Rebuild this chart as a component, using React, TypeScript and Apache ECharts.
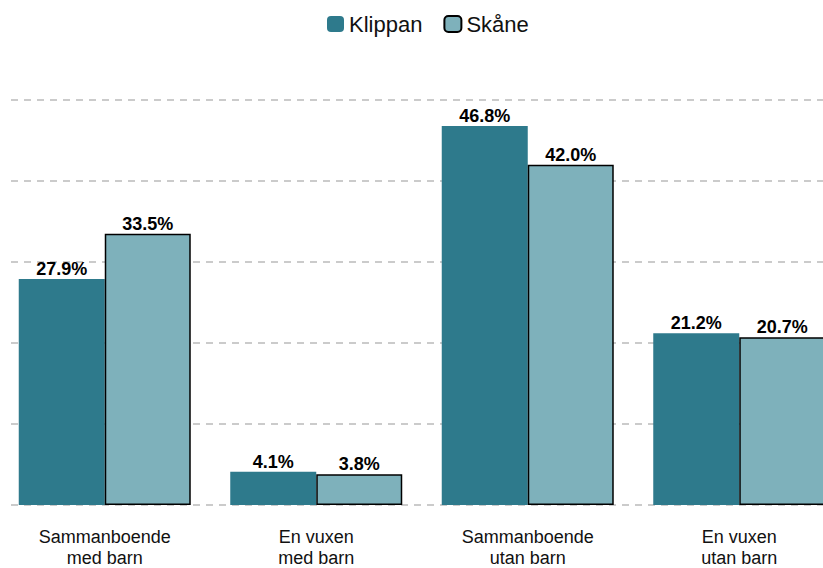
import React, { useEffect, useRef } from "react";
import * as echarts from "echarts";

const categories = ["Sammanboende\nmed barn", "En vuxen\nmed barn", "Sammanboende\nutan barn", "En vuxen\nutan barn"];
const klippan = [27.9, 4.1, 46.8, 21.2];
const skane = [33.5, 3.8, 42.0, 20.7];
const seriesNames = ["Klippan", "Skåne"];

export default function App() {
  const ref = useRef<HTMLDivElement>(null);
  useEffect(() => {
    if (!ref.current) return;
    const chart = echarts.init(ref.current, null, { renderer: "svg" });
    const font = "Liberation Sans, Arial, sans-serif";
    const label = {
      show: true,
      position: "top",
      distance: 1,
      formatter: (p: any) => p.value.toFixed(1) + "%",
      fontFamily: font,
      fontSize: 18,
      fontWeight: "bold",
      color: "#000",
    };
    chart.setOption({
      animation: false,
      textStyle: { fontFamily: font },
      legend: {
        top: 8,
        left: 322,
        itemWidth: 17,
        itemHeight: 16,
        itemGap: 21,
        textStyle: { fontSize: 22, color: "#111", fontFamily: font },
        data: seriesNames,
      },
      grid: [
        { left: 11, right: 0, top: 100, bottom: 63, outerBoundsMode: "none", containLabel: false },
        { left: -1, width: 846, top: 100, bottom: 63, outerBoundsMode: "none", containLabel: false },
      ],
      xAxis: [
        { gridIndex: 0, type: "value", show: false, min: 0, max: 1 },
        {
          gridIndex: 1,
          type: "category",
          data: categories,
          axisLine: { show: false },
          axisTick: { show: false },
          axisLabel: { fontSize: 18, lineHeight: 21, color: "#111", margin: 21, fontFamily: font, interval: 0 },
        },
      ],
      yAxis: [
        {
          gridIndex: 0,
          type: "value",
          min: 0,
          max: 50,
          interval: 10,
          axisLabel: { show: false },
          axisLine: { show: false },
          axisTick: { show: false },
          splitLine: { show: true, lineStyle: { color: "#bbbbbb", width: 1.5, type: [7, 6] } },
        },
        { gridIndex: 1, type: "value", min: 0, max: 50, show: false, splitLine: { show: false } },
      ],
      series: [
        {
          name: seriesNames[0],
          type: "bar",
          xAxisIndex: 1,
          yAxisIndex: 1,
          data: klippan,
          barWidth: 86,
          barGap: "0%",
          itemStyle: { color: "#2e7a8c" },
          label,
        },
        {
          name: seriesNames[1],
          type: "bar",
          xAxisIndex: 1,
          yAxisIndex: 1,
          data: skane,
          barWidth: 86,
          barGap: "0%",
          itemStyle: { color: "#7eb1bb", borderColor: "#000", borderWidth: 1.5 },
          label,
        },
      ],
    });
    return () => chart.dispose();
  }, []);
  return <div ref={ref} style={{ position: "absolute", left: 0, top: 0, width: 823, height: 568 }} />;
}
